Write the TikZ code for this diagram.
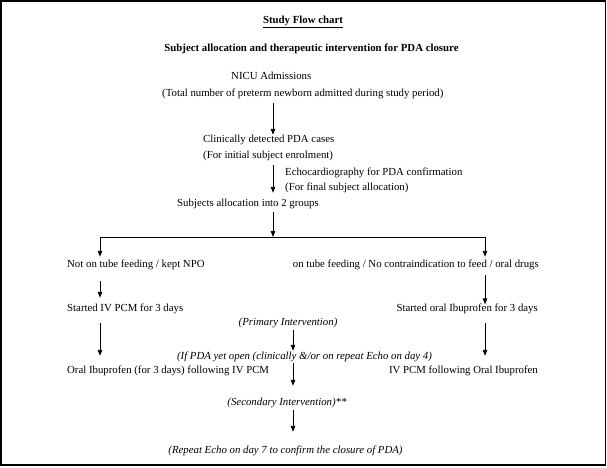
\documentclass[tikz,border=0pt]{standalone}
\usepackage{fontspec}
\setmainfont{Liberation Serif}
\usetikzlibrary{arrows.meta}
\begin{document}
\begin{tikzpicture}[x=1pt,y=-1pt,
  txt/.style={inner sep=0pt,text height=7pt,text depth=2pt,font=\fontsize{10.8}{13}\selectfont},
  itx/.style={txt,font=\fontsize{10.8}{13}\selectfont\itshape},
  bld/.style={txt,font=\fontsize{10.8}{13}\selectfont\bfseries},
  arr/.style={line width=0.9pt,-{Triangle[length=6pt,width=4.5pt]}},
  ln/.style={line width=0.9pt}]
\useasboundingbox (0,0) rectangle (607,467);
\draw[line width=1.5pt] (1,1) rectangle (605.5,465);
% texts
\node[bld] (title) at (303,21) {\underline{Study Flow chart}};
\node[bld] (subtitle) at (311.5,49) {Subject allocation and therapeutic intervention for PDA closure};
\node[txt,anchor=west] (nicu) at (231,77) {NICU Admissions};
\node[txt,anchor=west] (total) at (162,94) {(Total number of preterm newborn admitted during study period)};
\node[txt,anchor=west] (clin) at (203,140) {Clinically detected PDA cases};
\node[txt,anchor=west] (init) at (203,156) {(For initial subject enrolment)};
\node[txt,anchor=west] (echo) at (285,173) {Echocardiography for PDA confirmation};
\node[txt,anchor=west] (final) at (285,188) {(For final subject allocation)};
\node[txt,anchor=west] (subj) at (177,204) {Subjects allocation into 2 groups};
\node[txt,anchor=west] (notube) at (67,265) {Not on tube feeding / kept NPO};
\node[txt,anchor=east] (ontube) at (539,265) {on tube feeding / No contraindication to feed / oral drugs};
\node[txt,anchor=west] (startiv) at (67,309) {Started IV PCM for 3 days};
\node[txt,anchor=east] (startoral) at (538,309) {Started oral Ibuprofen for 3 days};
\node[itx] (primary) at (288,323) {(Primary Intervention)};
\node[itx] (ifpda) at (304.5,357) {(If PDA yet open (clinically \&/or on repeat Echo on day 4)};
\node[txt,anchor=west] (oralibu) at (67,371) {Oral Ibuprofen (for 3 days) following IV PCM};
\node[txt,anchor=east] (ivpcm) at (538,371) {IV PCM following Oral Ibuprofen};
\node[itx] (secondary) at (287,403) {(Secondary Intervention)**};
\node[itx] (repeat) at (285.5,451) {(Repeat Echo on day 7 to confirm the closure of PDA)};
% guide coordinates
\coordinate (cx) at (273,0);
\coordinate (lx) at (100,0);
\coordinate (rx) at (485,0);
\coordinate (mx) at (293,0);
\coordinate (jc) at (273,237);
\coordinate (jl) at (100,237);
\coordinate (jr) at (485,237);
% connectors
\draw[arr,shorten <=4.5pt,shorten >=0.5pt] (total.south -| cx) -- (clin.north -| cx);
\draw[arr,shorten <=4.5pt,shorten >=6.5pt] (init.south -| cx) -- (subj.north -| cx);
\draw[arr,shorten <=3.5pt] (subj.south -| cx) -- (jc);
\draw[ln] (jl) -- (jr);
\draw[arr,shorten >=3.5pt] (jl) -- (notube.north -| lx);
\draw[arr,shorten >=3.5pt] (jr) -- (ontube.north -| rx);
\draw[arr,shorten <=11.5pt,shorten >=6.5pt] (notube.south -| lx) -- (startiv.north -| lx);
\draw[arr,shorten <=5.5pt,shorten >=0pt] (ontube.south -| rx) -- (startoral.north -| rx);
\draw[arr,shorten <=9.5pt,shorten >=10.5pt] (startiv.south -| lx) -- (oralibu.north -| lx);
\draw[arr,shorten <=9.5pt,shorten >=10.5pt] (startoral.south -| rx) -- (ivpcm.north -| rx);
\draw[arr,shorten <=2.5pt,shorten >=1.5pt] (primary.south -| mx) -- (ifpda.north -| mx);
\draw[arr,shorten <=1.5pt,shorten >=12.5pt] (ifpda.south -| mx) -- (secondary.north -| mx);
\draw[arr,shorten <=2.5pt,shorten >=14.5pt] (secondary.south -| mx) -- (repeat.north -| mx);
\end{tikzpicture}
\end{document}
